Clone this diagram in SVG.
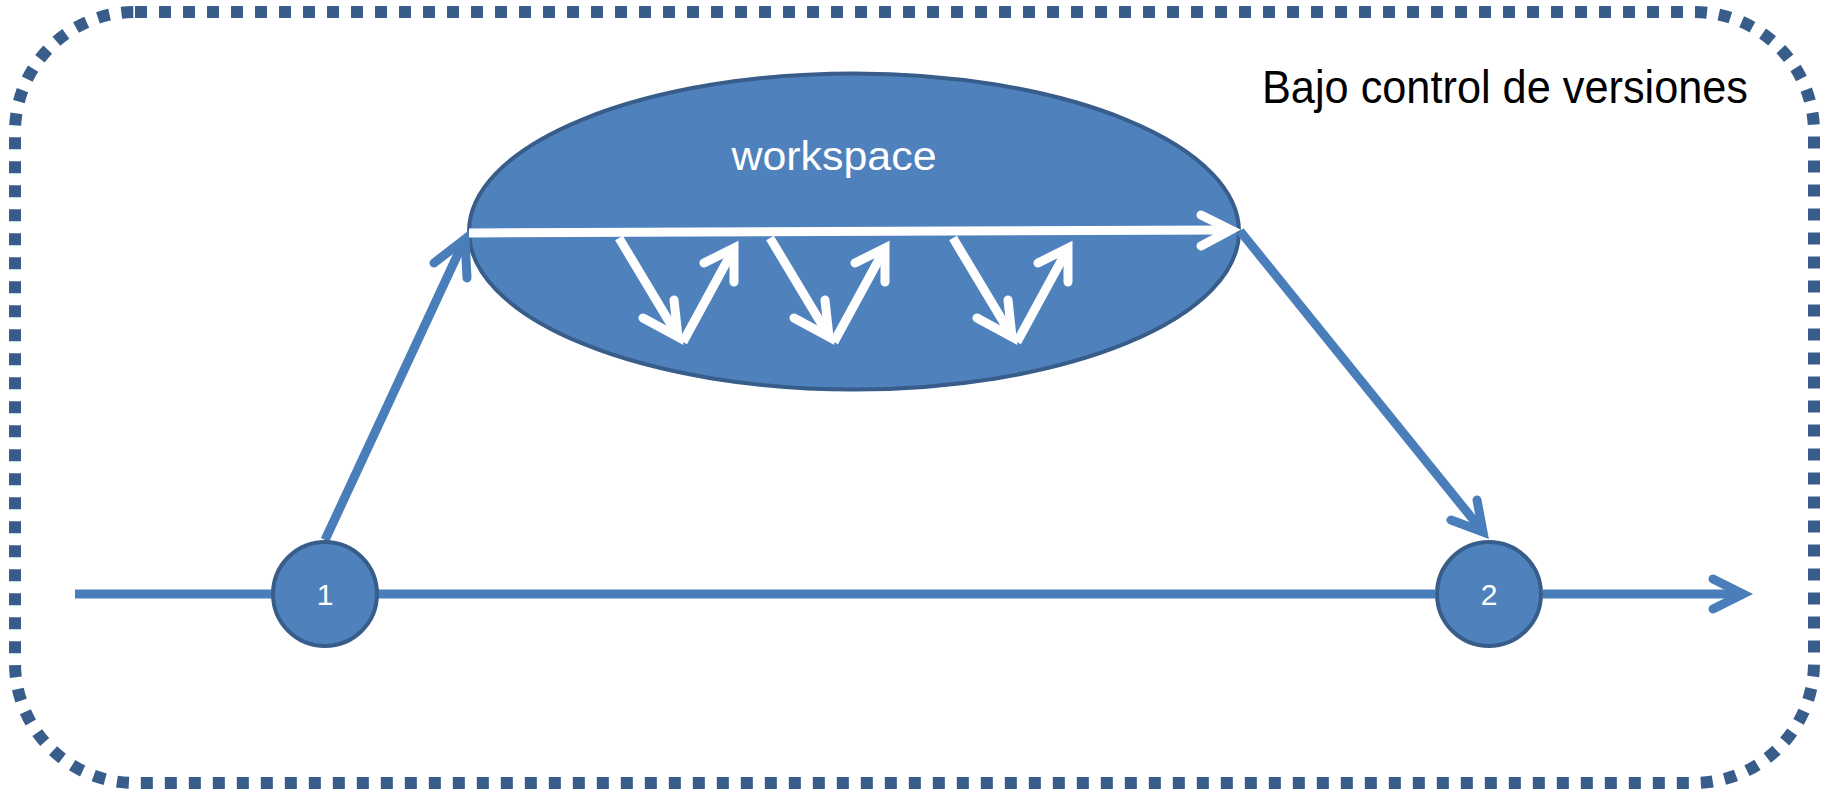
<svg xmlns="http://www.w3.org/2000/svg" width="1825" height="792" viewBox="0 0 1825 792">
<style>
.blue{fill:none;stroke:#4A7EBB;stroke-width:9;stroke-linecap:butt}
.bhead{fill:none;stroke:#4A7EBB;stroke-width:9;stroke-linecap:round;stroke-linejoin:miter;stroke-miterlimit:10}
.white{fill:none;stroke:#FFFFFF;stroke-width:9;stroke-linecap:butt}
.whead{fill:none;stroke:#FFFFFF;stroke-width:9;stroke-linecap:round;stroke-linejoin:miter;stroke-miterlimit:10}
.node{fill:#4F81BD;stroke:#385D8A;stroke-width:4}
.lbl{font-family:"Liberation Sans","Open Sans",sans-serif;fill:#FFFFFF;text-anchor:middle}
</style>
<defs>
<g id="zz">
<path class="white" d="M0 0 L57 95 M64 104 L113 14"/>
<path class="whead" d="M55 62 L59 99 L24 80 M85 25 L115 10 L115 44"/>
</g>
</defs>
<rect id="versioned-area" x="15" y="12" width="1799" height="771" rx="120" ry="120" fill="none" stroke="#385D8A" stroke-width="12" stroke-dasharray="12 12"/>
<text id="title" x="1262" y="103" font-family="'Liberation Sans','Open Sans',sans-serif" font-size="46" fill="#000000" textLength="486" lengthAdjust="spacingAndGlyphs">Bajo control de versiones</text>
<g id="workspace">
<ellipse cx="854" cy="231.5" rx="385" ry="158" class="node"/>
<text class="lbl" x="834" y="170" font-size="40" textLength="205" lengthAdjust="spacingAndGlyphs">workspace</text>
</g>
<g id="connectors">
<path class="blue" d="M75 594 H272 M378 594 H1435 M1543 594 H1738"/>
<path class="bhead" d="M1713 579 L1743 594 L1713 609"/>
<path class="blue" d="M325 540 L463 243"/>
<path class="bhead" d="M434 263 L465 239 L467 278"/>
<path class="blue" d="M1240 231 L1480 528"/>
<path class="bhead" d="M1477 500 L1483 532 L1451 520"/>
<path class="white" d="M469 233 L1228 230"/>
<path class="whead" d="M1201 215 L1231 230 L1201 246"/>
<use href="#zz" x="619" y="238"/>
<use href="#zz" x="770" y="238"/>
<use href="#zz" x="953" y="238"/>
</g>
<g id="node-1">
<circle cx="325" cy="594" r="52" class="node"/>
<text class="lbl" x="325" y="605" font-size="30">1</text>
</g>
<g id="node-2">
<circle cx="1489" cy="594" r="52" class="node"/>
<text class="lbl" x="1489" y="605" font-size="30">2</text>
</g>
</svg>
